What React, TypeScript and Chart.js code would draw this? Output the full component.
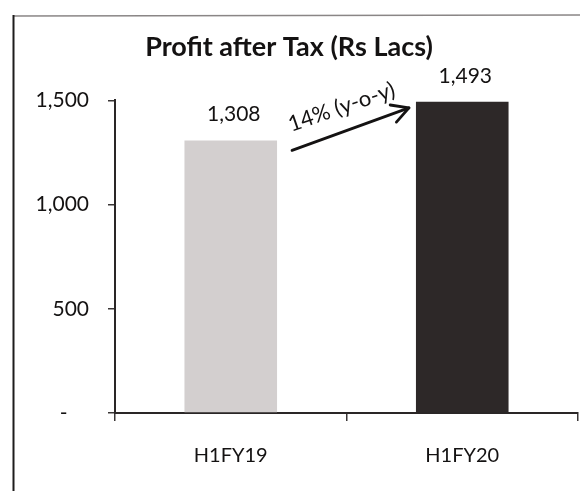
import React, { useEffect, useRef } from "react";
import { Chart, registerables } from "chart.js";

Chart.register(...registerables);

const categories = ["H1FY19", "H1FY20"];
const profitValues = [1308, 1493];
const yTickValues = [0, 500, 1000, 1500];
const titleText = "Profit after Tax (Rs Lacs)";
const growthLabel = "14% (y-o-y)";

const FONT = "Lato, 'Liberation Sans', sans-serif";
const INK = "#141212";

export default function App() {
  const ref = useRef<HTMLCanvasElement | null>(null);

  useEffect(() => {
    document.body.style.margin = "0";
    const canvas = ref.current;
    if (!canvas) return;

    const framePlugin = {
      id: "frame",
      beforeDraw(chart: any) {
        const ctx = chart.ctx;
        ctx.save();
        ctx.strokeStyle = "#8a8686";
        ctx.lineWidth = 1.5;
        ctx.beginPath();
        ctx.moveTo(13, 16);
        ctx.lineTo(580, 15);
        ctx.stroke();
        ctx.strokeStyle = "#1e1c1c";
        ctx.lineWidth = 2;
        ctx.beginPath();
        ctx.moveTo(13.5, 15);
        ctx.lineTo(13.5, 491);
        ctx.stroke();
        ctx.restore();
      },
    };

    const labelPlugin = {
      id: "valueLabels",
      afterDatasetsDraw(chart: any) {
        const ctx = chart.ctx;
        const meta = chart.getDatasetMeta(0);
        ctx.save();
        ctx.fillStyle = INK;
        ctx.font = `21px ${FONT}`;
        ctx.textAlign = "center";
        ctx.textBaseline = "middle";
        meta.data.forEach((bar: any, i: number) => {
          const v = profitValues[i];
          ctx.fillText(v.toLocaleString("en-US"), bar.x + 3, bar.y - 26);
        });

        // growth arrow between the two bars
        const b0 = meta.data[0];
        const b1 = meta.data[1];
        const x0 = b0.x + b0.width / 2 + 15;
        const y0 = b0.y + 10;
        const x1 = b1.x - b1.width / 2 - 7;
        const y1 = b1.y + 6;
        ctx.strokeStyle = INK;
        ctx.lineWidth = 2.8;
        ctx.lineCap = "round";
        ctx.lineJoin = "round";
        ctx.beginPath();
        ctx.moveTo(x0, y0);
        ctx.lineTo(x1, y1);
        ctx.stroke();
        const ang = Math.atan2(y1 - y0, x1 - x0);
        const ah = 19;
        ctx.beginPath();
        ctx.moveTo(x1 - ah * Math.cos(ang - 0.5), y1 - ah * Math.sin(ang - 0.5));
        ctx.lineTo(x1, y1);
        ctx.lineTo(x1 - ah * Math.cos(ang + 0.5), y1 - ah * Math.sin(ang + 0.5));
        ctx.stroke();

        ctx.translate((x0 + x1) / 2 - 9, (y0 + y1) / 2 - 22);
        ctx.rotate(-0.33);
        ctx.font = `22px ${FONT}`;
        ctx.fillText(growthLabel, 0, 0);
        ctx.restore();
      },
    };

    const chart = new Chart(canvas, {
      type: "bar",
      data: {
        labels: categories,
        datasets: [
          {
            data: profitValues,
            backgroundColor: ["#d3cfcf", "#2d2828"],
            borderWidth: 0,
            categoryPercentage: 1,
            barPercentage: 0.4,
          },
        ],
      },
      options: {
        animation: false,
        responsive: false,
        layout: { padding: { left: 0, right: 2, top: 0, bottom: 0 } },
        plugins: {
          legend: { display: false },
          tooltip: { enabled: false },
          title: {
            display: true,
            text: titleText,
            color: INK,
            font: { family: FONT, size: 27, weight: "bold", lineHeight: 1.2 },
            padding: { top: 31, bottom: 37 },
          },
        },
        scales: {
          x: {
            afterFit(scale: any) {
              scale.height = 78;
            },
            grid: {
              display: true,
              drawOnChartArea: false,
              offset: true,
              tickLength: 8,
              color: "#3a3636",
              lineWidth: 1.5,
            },
            border: { display: true, color: "#2a2626", width: 2 },
            ticks: {
              color: INK,
              font: { family: FONT, size: 20 },
              padding: 23,
            },
          },
          y: {
            min: 0,
            max: 1500,
            afterFit(scale: any) {
              scale.width = 115;
            },
            afterBuildTicks(scale: any) {
              scale.ticks = yTickValues.map((v) => ({ value: v }));
            },
            grid: {
              display: true,
              drawOnChartArea: false,
              tickLength: 7,
              color: "#3a3636",
              lineWidth: 1.5,
            },
            border: { display: true, color: "#2a2626", width: 2 },
            ticks: {
              color: INK,
              font: { family: FONT, size: 21 },
              padding: 19,
              callback: (v: any) => (Number(v) === 0 ? "-    " : Number(v).toLocaleString("en-US")),
            },
          },
        },
      },
      plugins: [framePlugin, labelPlugin],
    });

    return () => chart.destroy();
  }, []);

  return <canvas ref={ref} width={580} height={491} style={{ display: "block" }} />;
}
